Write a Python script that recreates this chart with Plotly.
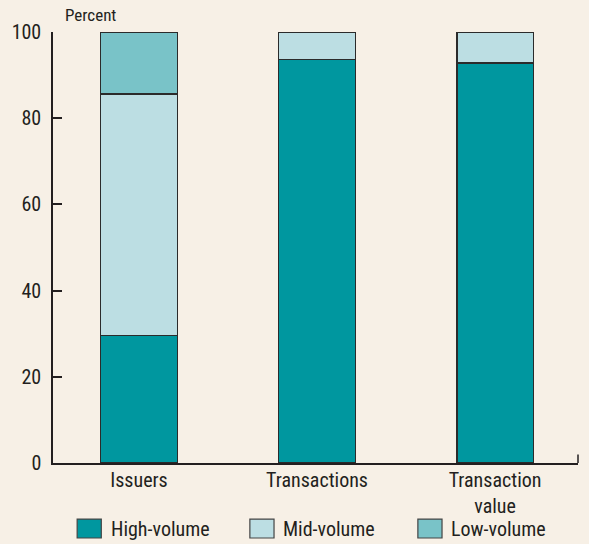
import plotly.graph_objects as go

# Share of issuers, transactions and transaction value by issuer size (percent)
categories = ["Issuers", "Transactions", "Transaction<br>value"]
series_names = ["High-volume", "Mid-volume", "Low-volume"]
high_volume = [29.6, 93.6, 92.8]
mid_volume = [56.0, 6.4, 7.2]
low_volume = [14.4, 0.0, 0.0]
y_ticks = [0, 20, 40, 60, 80, 100]

colors = ["#00979f", "#bcdee3", "#79c3c8"]
bg = "#f7f0e6"
font_family = "Liberation Sans Narrow, Arial Narrow, Roboto Condensed, Liberation Sans, sans-serif"
ink = "#231f20"

fig = go.Figure()
for name, vals, col in zip(series_names, [high_volume, mid_volume, low_volume], colors):
    fig.add_trace(go.Bar(
        x=list(range(len(categories))), y=vals, name=name,
        marker=dict(color=col, line=dict(color="#2b2b2b", width=1.5)),
        width=0.43, showlegend=False,
    ))

# Legend drawn as boxed swatches under the axis
legend_x = [0.046, 0.375, 0.695]
for name, col, lx in zip(series_names, colors, legend_x):
    fig.add_shape(type="rect", xref="paper", yref="paper",
                  x0=lx, x1=lx + 0.046, y0=-0.174, y1=-0.13,
                  fillcolor=col, line=dict(color="#444", width=1.2))
    fig.add_annotation(x=lx + 0.060, y=-0.152, xref="paper", yref="paper",
                       text=name, showarrow=False, xanchor="left", yanchor="middle",
                       font=dict(size=20, color=ink, family=font_family))

fig.add_annotation(x=0.019, y=1.012, xref="paper", yref="paper", text="Percent",
                   showarrow=False, xanchor="left", yanchor="bottom",
                   font=dict(size=17, color=ink, family=font_family))

# Small end tick on the right of the category axis
fig.add_shape(type="line", xref="paper", yref="paper", x0=1, x1=1, y0=0, y1=0.02,
              line=dict(color=ink, width=1.5))

fig.update_layout(
    barmode="stack",
    width=589, height=544,
    margin=dict(l=53, r=11, t=32, b=81),
    paper_bgcolor=bg, plot_bgcolor=bg,
    font=dict(family=font_family, color=ink, size=20),
    xaxis=dict(
        tickmode="array", tickvals=list(range(len(categories))), ticktext=categories,
        range=[-0.483, 2.466], showline=True, linecolor=ink, linewidth=1.5,
        ticks="", showgrid=False, zeroline=False, fixedrange=True,
        tickfont=dict(size=20), ticklabelstandoff=-2,
    ),
    yaxis=dict(
        range=[0, 100], tickvals=y_ticks, showline=True, linecolor=ink, linewidth=1.5,
        ticks="inside", ticklen=9, tickwidth=1.5, tickcolor=ink,
        showgrid=False, zeroline=False, tickfont=dict(size=20), ticklabelstandoff=6,
    ),
)

fig.write_html("out.html")
